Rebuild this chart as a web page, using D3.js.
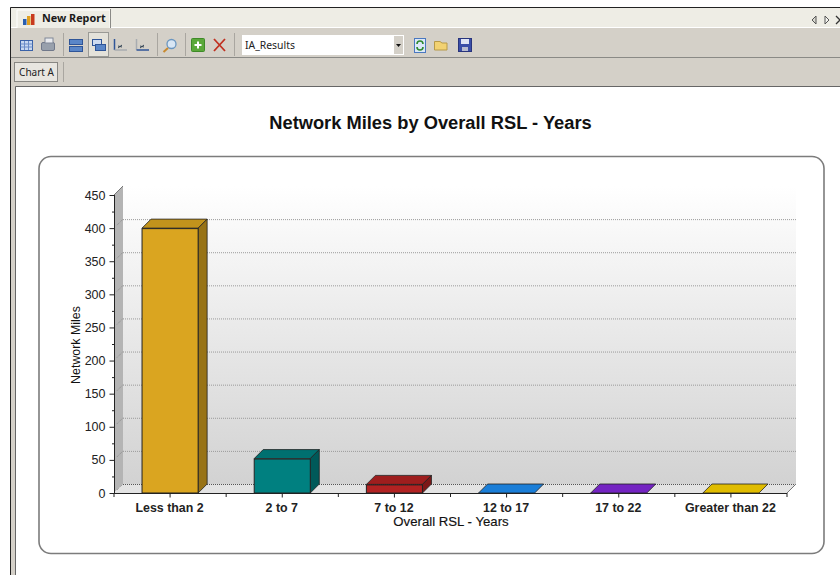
<!DOCTYPE html>
<html lang="en">
<head>
  <meta charset="UTF-8">
  <title>Network Miles by Overall RSL - Years</title>
  <script src="https://d3js.org/d3.v7.min.js"></script>
  <style>
    html, body { margin: 0; padding: 0; background: #fff; overflow: hidden; }
    svg { display: block; }
    text { font-family: "Liberation Sans", Arial, sans-serif; }
    .ui text { font-family: "Noto Sans", "DejaVu Sans", sans-serif; }
    .tick text { font-family: "Liberation Sans", Arial, sans-serif; }
  </style>
</head>
<body>
  <script>
    const categories = ["Less than 2", "2 to 7", "7 to 12", "12 to 17", "17 to 22", "Greater than 22"];
    const values = [400, 52, 13, 0, 0, 0];
    const frontColors = ["#daa520", "#008080", "#b22222", "#1e88e5", "#7b28cc", "#e6c000"];
    const topColors = ["#c2931c", "#007070", "#9e1e1e", "#1a7ed8", "#7424c2", "#e0bc00"];
    const sideColors = ["#987316", "#005959", "#7c1818", "#145f9f", "#561c8e", "#a08600"];
    const yTicks = [0, 50, 100, 150, 200, 250, 300, 350, 400, 450];
    const yMinorTicks = [25, 75, 125, 175, 225, 275, 325, 375, 425];

    const width = 840, height = 575;
    const depth = 9;

    const svg = d3.select("body").append("svg")
      .attr("width", width)
      .attr("height", height);

    const defs = svg.append("defs");
    const wallGrad = defs.append("linearGradient")
      .attr("id", "wall").attr("x1", 0).attr("y1", 0).attr("x2", 0).attr("y2", 1);
    wallGrad.append("stop").attr("offset", "0%").attr("stop-color", "#ffffff");
    wallGrad.append("stop").attr("offset", "100%").attr("stop-color", "#d2d2d2");

    // window chrome
    const ui = svg.append("g").attr("class", "ui");
    ui.append("rect").attr("x", 10).attr("y", 7).attr("width", 830).attr("height", 568).attr("fill", "#d4d0c8");
    ui.append("rect").attr("x", 11).attr("y", 8).attr("width", 829).attr("height", 20).attr("fill", "#eeede5");
    ui.append("rect").attr("x", 16).attr("y", 86).attr("width", 824).attr("height", 489).attr("fill", "#fff");
    ui.append("path").attr("d", "M10.5,575V7.5H840").attr("fill", "none").attr("stroke", "#222");
    ui.append("path").attr("d", "M15.5,575V86.5H840").attr("fill", "none").attr("stroke", "#666");
    ui.append("line").attr("x1", 11).attr("x2", 840).attr("y1", 57.5).attr("y2", 57.5).attr("stroke", "#8a8a86");
    ui.append("rect").attr("x", 11).attr("y", 27).attr("width", 829).attr("height", 1).attr("fill", "#fff");

    // report tab
    ui.append("path").attr("d", "M17,28V10H110V28").attr("fill", "#eeede5").attr("stroke", "#fff");
    ui.append("line").attr("x1", 110.5).attr("x2", 110.5).attr("y1", 9).attr("y2", 28).attr("stroke", "#8a8a86");
    ui.append("text").attr("x", 42).attr("y", 22).attr("font-size", 10.8).attr("font-weight", "bold")
      .attr("fill", "#1a1a1a").text("New Report");
    [[23, 5, 6, "#2a5fb0"], [27, 2, 9, "#e0a020"], [31, 0, 11, "#c83a1e"]].forEach(d => {
      ui.append("rect").attr("x", d[0]).attr("y", 14 + d[1]).attr("width", 3.5).attr("height", d[2]).attr("fill", d[3]);
    });

    // tab scroll arrows
    ui.append("path").attr("d", "M816,16L812,20L816,24Z").attr("fill", "#d8d8d0").attr("stroke", "#555");
    ui.append("path").attr("d", "M825,16L829,20L825,24Z").attr("fill", "#f4f4f0").attr("stroke", "#555");
    ui.append("path").attr("d", "M836,16L840,20M836,24L840,20").attr("stroke", "#333").attr("stroke-width", 1.3);

    // toolbar separators
    [63, 157, 185, 234].forEach(x => {
      ui.append("line").attr("x1", x + .5).attr("x2", x + .5).attr("y1", 33).attr("y2", 56).attr("stroke", "#a9a6a0");
    });

    // grid icon and printer
    ui.append("rect").attr("x", 20.5).attr("y", 40.5).attr("width", 12).attr("height", 10).attr("fill", "#c8d8f0").attr("stroke", "#3a62a8");
    ui.append("path").attr("d", "M20.5,44H32.5M20.5,47H32.5M24.5,41V50M28.5,41V50").attr("stroke", "#6a8cc8").attr("fill", "none");
    ui.append("rect").attr("x", 41.5).attr("y", 42.5).attr("width", 13).attr("height", 8).attr("rx", 1.5).attr("fill", "#98a0ac").attr("stroke", "#70788a");
    ui.append("rect").attr("x", 45).attr("y", 38).attr("width", 8).attr("height", 5).attr("fill", "#e8eaee").attr("stroke", "#808898");

    // stacked and overlapped icons
    ui.append("rect").attr("x", 88.5).attr("y", 32.5).attr("width", 20).attr("height", 24).attr("fill", "#e4e2da").attr("stroke", "#9a9a96");
    ui.append("rect").attr("x", 69.5).attr("y", 39.5).attr("width", 13).attr("height", 5).attr("fill", "#5a86c8").attr("stroke", "#2f5598");
    ui.append("rect").attr("x", 69.5).attr("y", 46.5).attr("width", 13).attr("height", 5).attr("fill", "#5a86c8").attr("stroke", "#2f5598");
    ui.append("rect").attr("x", 92.5).attr("y", 39.5).attr("width", 9).attr("height", 6).attr("fill", "#cfdcf0").attr("stroke", "#2f5598");
    ui.append("rect").attr("x", 95.5).attr("y", 44.5).attr("width", 10).attr("height", 6).attr("fill", "#5a86c8").attr("stroke", "#2f5598");

    // axis icons
    [[114, "#2f5598", "#a8acb0"], [136, "#a8acb0", "#2f5598"]].forEach(d => {
      ui.append("path").attr("d", `M${d[0] + .5},50V39`).attr("stroke", d[1]).attr("stroke-width", 1.5);
      ui.append("path").attr("d", `M${d[0] + .5},50H${d[0] + 13}`).attr("stroke", d[2]).attr("stroke-width", 1.5);
      ui.append("path").attr("d", `M${d[0] + 4},46l4,1M${d[0] + 4},48l4,-3`).attr("stroke", "#345").attr("fill", "none");
    });

    // magnifier
    ui.append("circle").attr("cx", 171.5).attr("cy", 44).attr("r", 4.5).attr("fill", "#d8e6f4").attr("stroke", "#6a96c0").attr("stroke-width", 1.3);
    ui.append("line").attr("x1", 168).attr("y1", 48).attr("x2", 163.5).attr("y2", 52).attr("stroke", "#c88a30").attr("stroke-width", 2);

    // add and delete
    ui.append("rect").attr("x", 191.5).attr("y", 38.5).attr("width", 13).attr("height", 13).attr("rx", 1).attr("fill", "#5aa83a").attr("stroke", "#3e8a28");
    ui.append("path").attr("d", "M198,41.5V48.5M194.5,45H201.5").attr("stroke", "#fff").attr("stroke-width", 2);
    ui.append("path").attr("d", "M214,39L225,51M225,39L214,51").attr("stroke", "#c03020").attr("stroke-width", 1.8);

    // results dropdown
    ui.append("rect").attr("x", 242).attr("y", 35).attr("width", 162).attr("height", 20).attr("fill", "#fff");
    ui.append("rect").attr("x", 394).attr("y", 36).attr("width", 9).attr("height", 18).attr("fill", "#d4d0c8");
    ui.append("path").attr("d", "M396,44H401L398.5,47Z").attr("fill", "#111");
    ui.append("text").attr("x", 245).attr("y", 49).attr("font-size", 10.4).attr("fill", "#222").text("IA_Results");

    // refresh, open, save
    ui.append("rect").attr("x", 414.5).attr("y", 38.5).attr("width", 11).attr("height", 14).attr("fill", "#dce8f8").attr("stroke", "#4a78c0");
    ui.append("path").attr("d", "M417,44a3,3 0 0 1 6,0M423,47a3,3 0 0 1 -6,0").attr("fill", "none").attr("stroke", "#2e8a2e").attr("stroke-width", 1.6);
    ui.append("path").attr("d", "M434.5,50V41.5H440L442,43H447V50Z").attr("fill", "#f2d272").attr("stroke", "#b89a48");
    ui.append("rect").attr("x", 458.5).attr("y", 38.5).attr("width", 13).attr("height", 13).attr("fill", "#3a4ea8").attr("stroke", "#28347c");
    ui.append("rect").attr("x", 461).attr("y", 39).attr("width", 8).attr("height", 5).attr("fill", "#dfe4f4");
    ui.append("rect").attr("x", 462).attr("y", 47).attr("width", 6).attr("height", 4).attr("fill", "#b8bcd0");

    // chart A tab
    ui.append("rect").attr("x", 14.5).attr("y", 62.5).attr("width", 43).attr("height", 19).attr("fill", "#e8e6e0").attr("stroke", "#333").attr("stroke-dasharray", "1,1");
    ui.append("text").attr("x", 36.5).attr("y", 76).attr("text-anchor", "middle").attr("font-size", 10).attr("fill", "#222").text("Chart A");
    ui.append("line").attr("x1", 63.5).attr("x2", 63.5).attr("y1", 62).attr("y2", 82).attr("stroke", "#a9a6a0");

    // chart title and frame
    svg.append("text").attr("x", 430.5).attr("y", 129).attr("text-anchor", "middle")
      .attr("font-size", 18.3).attr("font-weight", "bold").attr("fill", "#111")
      .text("Network Miles by Overall RSL - Years");
    svg.append("rect").attr("x", 39).attr("y", 156.5).attr("width", 785).attr("height", 397)
      .attr("rx", 12).attr("fill", "#fff").attr("stroke", "#7c7c7c").attr("stroke-width", 1.6);

    // scales
    const x = d3.scaleBand().domain(categories).range([114, 787]).paddingInner(0).paddingOuter(0);
    const y = d3.scaleLinear().domain([0, 450]).range([493, 195]);
    const x0 = x.range()[0], x1 = x.range()[1], y0 = y(0), yTop = y(450);
    const barWidth = x.bandwidth() / 2;

    // back wall, side wall, floor
    const plot = svg.append("g");
    plot.append("rect")
      .attr("x", x0 + depth).attr("y", yTop - depth)
      .attr("width", x1 - x0).attr("height", y0 - yTop)
      .attr("fill", "url(#wall)");
    plot.append("path")
      .attr("d", `M${x0},${y0}L${x0},${yTop}L${x0 + depth},${yTop - depth}L${x0 + depth},${y0 - depth}Z`)
      .attr("fill", "#b4b4b4");
    plot.append("path")
      .attr("d", `M${x0},${y0}L${x0 + depth},${y0 - depth}L${x1 + depth},${y0 - depth}L${x1},${y0}Z`)
      .attr("fill", "#e3e3e3");

    // gridlines
    plot.selectAll("line.grid").data(yTicks).join("line")
      .attr("class", "grid")
      .attr("x1", x0 + depth).attr("x2", x1 + depth)
      .attr("y1", d => y(d) - depth + .5).attr("y2", d => y(d) - depth + .5)
      .attr("stroke", d => d === 0 ? "#555" : "#9a9a9a")
      .attr("stroke-dasharray", "1,1")
      .attr("display", d => d === 450 ? "none" : null);
    plot.selectAll("line.wall").data(yTicks).join("line")
      .attr("class", "wall")
      .attr("x1", d => x0 + 3).attr("x2", x0 + depth)
      .attr("y1", d => y(d) - 3).attr("y2", d => y(d) - depth)
      .attr("stroke", "#8c8c8c")
      .attr("stroke-dasharray", "1,1");
    plot.append("line")
      .attr("x1", x1).attr("y1", y0).attr("x2", x1 + depth).attr("y2", y0 - depth)
      .attr("stroke", "#777");
    plot.append("line")
      .attr("x1", x0).attr("y1", yTop).attr("x2", x0 + depth).attr("y2", yTop - depth)
      .attr("stroke", "#777");

    // bars
    const bars = svg.append("g").selectAll("g").data(categories).join("g");
    const left = d => x(d) + barWidth / 2;
    const val = (d, i) => y(values[i]);

    bars.append("path")
      .attr("d", (d, i) => {
        const l = left(d), r = l + barWidth, t = val(d, i);
        return `M${l},${t}L${l + depth},${t - depth}L${r + depth},${t - depth}L${r},${t}Z`;
      })
      .attr("fill", (d, i) => topColors[i])
      .attr("stroke", "#222").attr("stroke-width", .8);
    bars.filter((d, i) => values[i] > 0).append("path")
      .attr("d", d => {
        const i = categories.indexOf(d);
        const r = left(d) + barWidth, t = y(values[i]);
        return `M${r},${t}L${r + depth},${t - depth}L${r + depth},${y0 - depth}L${r},${y0}Z`;
      })
      .attr("fill", d => sideColors[categories.indexOf(d)])
      .attr("stroke", "#222").attr("stroke-width", .8);
    bars.filter((d, i) => values[i] > 0).append("rect")
      .attr("x", left)
      .attr("y", d => y(values[categories.indexOf(d)]) + .5)
      .attr("width", barWidth)
      .attr("height", d => y0 - y(values[categories.indexOf(d)]) - .5)
      .attr("fill", d => frontColors[categories.indexOf(d)])
      .attr("stroke", "#222").attr("stroke-width", 1);

    // y axis
    const yAxis = svg.append("g")
      .attr("transform", `translate(${x0 + .5},0)`)
      .call(d3.axisLeft(y).tickValues(yTicks).tickSize(5).tickPadding(4).tickFormat(d3.format("d")));
    yAxis.selectAll("path").attr("stroke", "#222").attr("d", `M0,${yTop}V${y0}`);
    yAxis.selectAll("line").attr("stroke", "#222");
    yAxis.selectAll("text").attr("font-size", 12.5).attr("fill", "#222");
    svg.append("g").selectAll("line").data(yMinorTicks).join("line")
      .attr("x1", x0 - 2).attr("x2", x0)
      .attr("y1", d => y(d) + .5).attr("y2", d => y(d) + .5)
      .attr("stroke", "#222");

    // x axis: ticks at band edges and at band centres
    const xAxis = svg.append("g")
      .attr("transform", `translate(0,${y0 + .5})`)
      .call(d3.axisBottom(x).tickSize(4).tickPadding(6));
    xAxis.selectAll("path").attr("stroke", "#222").attr("d", `M${x0},0H${x1}`);
    xAxis.selectAll("line").attr("stroke", "#222");
    xAxis.selectAll("text").attr("font-size", 12.4).attr("font-weight", "bold").attr("fill", "#222")
      .attr("dx", -0.5);
    svg.append("g").selectAll("line").data(categories).join("line")
      .attr("x1", d => x(d)).attr("x2", d => x(d))
      .attr("y1", y0).attr("y2", y0 + 4)
      .attr("stroke", "#222");
    svg.append("line").attr("x1", x1).attr("x2", x1).attr("y1", y0).attr("y2", y0 + 4).attr("stroke", "#222");

    // axis titles
    svg.append("text").attr("x", 451).attr("y", 526).attr("text-anchor", "middle")
      .attr("font-size", 13.2).attr("fill", "#111").attr("stroke", "#111").attr("stroke-width", .15)
      .text("Overall RSL - Years");
    svg.append("text").attr("transform", "translate(80,345) rotate(-90)").attr("text-anchor", "middle")
      .attr("font-size", 12.4).attr("fill", "#111").text("Network Miles");
  </script>
</body>
</html>
